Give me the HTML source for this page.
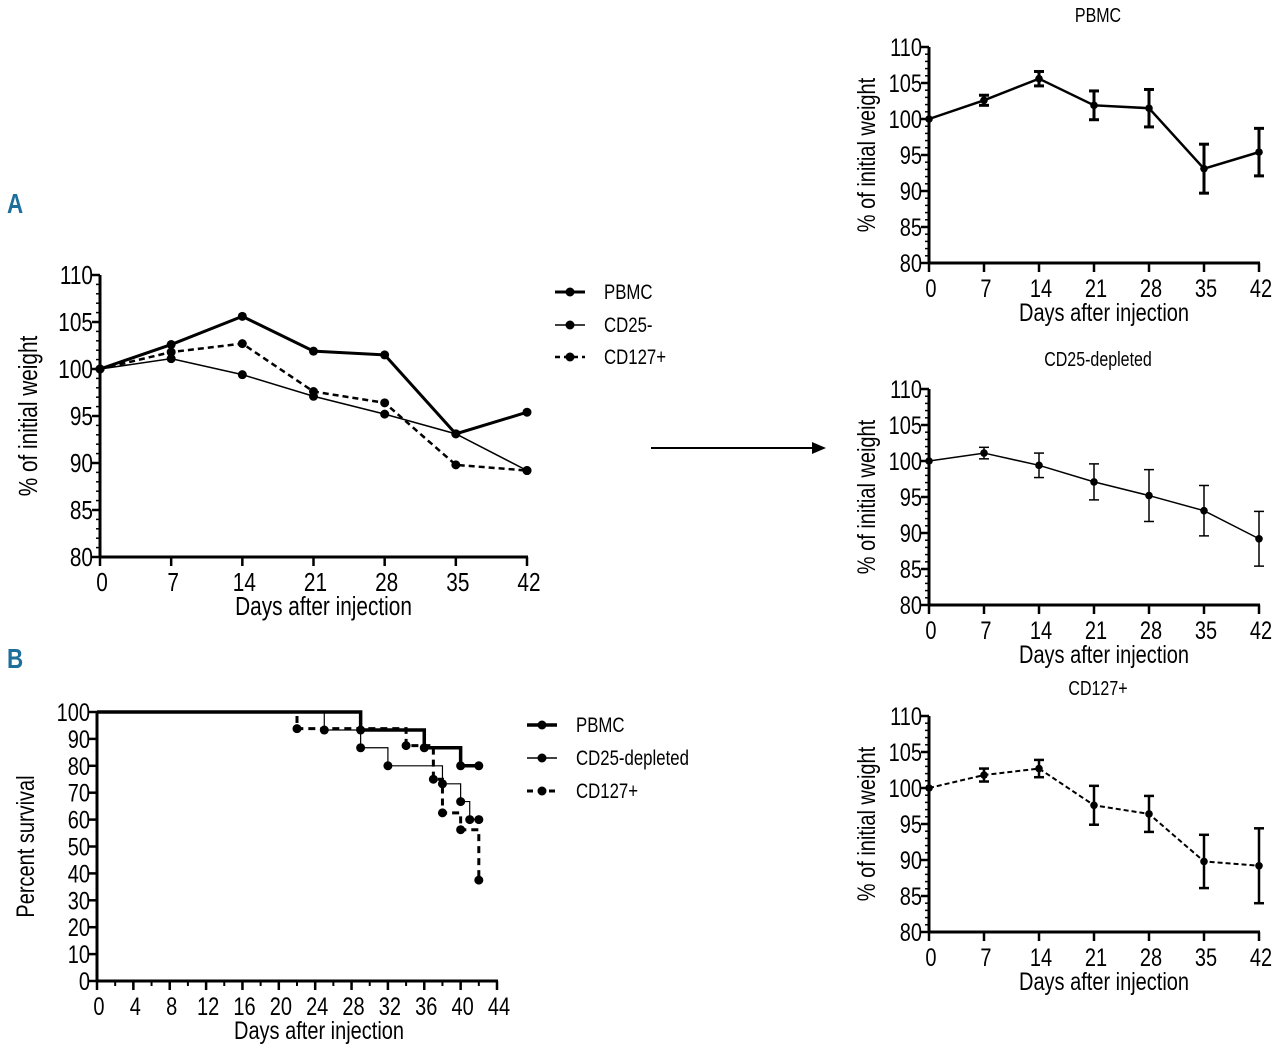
<!DOCTYPE html>
<html><head><meta charset="utf-8">
<style>
html,body{margin:0;padding:0;background:#fff;}
svg{display:block;font-family:"Liberation Sans Narrow","Liberation Sans",sans-serif;}
</style></head>
<body>
<svg id="fig" width="1280" height="1045" viewBox="0 0 1280 1045">
<text x="7" y="213" font-size="28" font-weight="bold" fill="#1d6e9b" transform="translate(7 0) scale(0.8 1) translate(-7 0)">A</text>
<text x="7" y="668" font-size="28" font-weight="bold" fill="#1d6e9b" transform="translate(7 0) scale(0.8 1) translate(-7 0)">B</text>
<g>
<line x1="651" y1="448" x2="815" y2="448" stroke="#000" stroke-width="2"/>
<polygon points="826,448 812,442 812,454" fill="#000"/>
</g>
</svg>
<script>
const days = [0,7,14,21,28,35,42];
const pbmcMean = [100,102.6,105.6,101.9,101.5,93.1,95.4];
const cd25Mean = [100,101.1,99.4,97.1,95.2,93.1,89.2];
const cd127Mean = [100,101.8,102.7,97.6,96.4,89.8,89.2];
const pbmcErr = [0,0.7,1.0,2.0,2.6,3.4,3.3];
const cd25Err = [0,0.8,1.7,2.5,3.6,3.5,3.8];
const cd127Err = [0,0.9,1.2,2.7,2.5,3.7,5.2];
const weightTicks = [80,85,90,95,100,105,110];
const dayTicks = [0,7,14,21,28,35,42];
const survTicksY = [0,10,20,30,40,50,60,70,80,90,100];
const survTicksX = [0,4,8,12,16,20,24,28,32,36,40,44];
const pbmcSurvT = [0,29,36,40,42];
const pbmcSurvS = [100,93.3,86.7,80,80];
const cd25SurvT = [0,25,29,32,38,40,41,42];
const cd25SurvS = [100,93.3,86.7,80,73.3,66.7,60,60];
const cd127SurvT = [0,22,34,37,38,40,42];
const cd127SurvS = [100,93.8,87.5,75,62.5,56.25,37.5];

const NS='http://www.w3.org/2000/svg';
const svg=document.getElementById('fig');
const SX=0.8;
function mk(tag,attrs,parent){const e=document.createElementNS(NS,tag);for(const k in attrs)e.setAttribute(k,attrs[k]);(parent||svg).appendChild(e);return e;}
function txt(s,x,y,attrs,parent,rot){
  const a=Object.assign({},attrs);
  a.x=0;a.y=0;
  a.transform=`translate(${x} ${y})`+(rot?` rotate(${rot})`:'')+` scale(${SX} 1)`;
  const e=mk('text',a,parent);e.textContent=s;return e;}

function axes(g,o){
  const X=v=>o.x0+(v-o.xmin)/(o.xmax-o.xmin)*(o.x1-o.x0);
  const Y=v=>o.y0-(v-o.ymin)/(o.ymax-o.ymin)*(o.y0-o.y1);
  mk('line',{x1:o.x0,y1:o.y1,x2:o.x0,y2:o.y0+1,stroke:'#000','stroke-width':3},g);
  mk('line',{x1:o.x0-1,y1:o.y0,x2:o.x1+1,y2:o.y0,stroke:'#000','stroke-width':3},g);
  if(o.yminor){for(let v=o.ymin;v<=o.ymax;v+=o.yminor){mk('line',{x1:o.x0-4,y1:Y(v),x2:o.x0,y2:Y(v),stroke:'#000','stroke-width':1.5},g);}}
  o.yt.forEach(v=>{mk('line',{x1:o.x0-8,y1:Y(v),x2:o.x0,y2:Y(v),stroke:'#000','stroke-width':2.5},g);
    const t=txt(String(v),o.x0-7,Y(v)+9,{'font-size':o.fs,'text-anchor':'end'},g);
    
    });
  if(o.xminor){for(let v=o.xmin;v<=o.xmax;v+=o.xminor){mk('line',{x1:X(v),y1:o.y0,x2:X(v),y2:o.y0+5,stroke:'#000','stroke-width':2},g);}}
  o.xt.forEach(v=>{mk('line',{x1:X(v),y1:o.y0,x2:X(v),y2:o.y0+9,stroke:'#000','stroke-width':2.5},g);
    const t=txt(String(v),X(v)+2,o.y0+34,{'font-size':o.fs,'text-anchor':'middle'},g);
    
    });
  const xt=txt(o.xlabel,(o.x0+o.x1)/2+o.xlo,o.y0+58,{'font-size':o.lfs,'text-anchor':'middle'},g);
  
  
  const cy=(o.y0+o.y1)/2, cx=o.ylx;
  const yt=txt(o.ylabel,cx,cy,{'font-size':o.lfs,'text-anchor':'middle'},g,-90);
  
  
  return {X,Y};
}
function lineSeries(g,X,Y,xs,ys,w,dash,r,name){
  const sg=mk('g',{},g);
  
  
  mk('polyline',{points:xs.map((x,i)=>X(x)+','+Y(ys[i])).join(' '),fill:'none',stroke:'#000','stroke-width':w,'stroke-dasharray':dash||'none'},sg);
  xs.forEach((x,i)=>mk('circle',{cx:X(x),cy:Y(ys[i]),r:r,fill:'#000'},sg));
}
function errBars(g,X,Y,xs,ys,es,w){
  xs.forEach((x,i)=>{if(!es[i])return;
    const b=mk('g',{},g);
    
    
    const cx=X(x),a=Y(ys[i]+es[i]),c=Y(ys[i]-es[i]);
    mk('line',{x1:cx,y1:a,x2:cx,y2:c,stroke:'#000','stroke-width':w},b);
    mk('line',{x1:cx-5,y1:a,x2:cx+5,y2:a,stroke:'#000','stroke-width':w},b);
    mk('line',{x1:cx-5,y1:c,x2:cx+5,y2:c,stroke:'#000','stroke-width':w},b);});
}
function legend(g,x,y,w,dash,label,name){
  const lg=mk('g',{},g);
  
  
  mk('line',{x1:x,y1:y,x2:x+30,y2:y,stroke:'#000','stroke-width':w,'stroke-dasharray':dash||'none'},lg);
  mk('circle',{cx:x+15,cy:y,r:4.5,fill:'#000'},lg);
  txt(label,x+49,y+7,{'font-size':21},lg);
}

// Panel A
const gA=mk('g',{});


const A=axes(gA,{x0:100,x1:527,y0:557,y1:275,xmin:0,xmax:42,ymin:80,ymax:110,yt:weightTicks,xt:dayTicks,yminor:1,fs:26,lfs:26,xlo:10,xlabel:'Days after injection',ylabel:'% of initial weight',ylx:37});
lineSeries(gA,A.X,A.Y,days,cd25Mean,1.5,null,4.5,'cd25-line');
lineSeries(gA,A.X,A.Y,days,cd127Mean,2.5,'6,4',4.5,'cd127-line');
lineSeries(gA,A.X,A.Y,days,pbmcMean,3,null,4.5,'pbmc-line');
legend(gA,555,292,3,null,'PBMC','legend-pbmc');
legend(gA,555,325,1.5,null,'CD25-','legend-cd25');
legend(gA,555,357,2.5,'5,4','CD127+','legend-cd127');

// Panel B
const gB=mk('g',{});


const B=axes(gB,{x0:97,x1:497,y0:981,y1:712,xmin:0,xmax:44,ymin:0,ymax:100,yt:survTicksY,xt:survTicksX,xminor:2,fs:25,lfs:25,xlo:22,xlabel:'Days after injection',ylabel:'Percent survival',ylx:34});
function km(ts,ss,w,dash,name){
  const sg=mk('g',{},gB);
  
  
  let p=[];
  for(let i=0;i<ts.length;i++){
    if(i>0)p.push(B.X(ts[i])+','+B.Y(ss[i-1]));
    p.push(B.X(ts[i])+','+B.Y(ss[i]));
  }
  mk('polyline',{points:p.join(' '),fill:'none',stroke:'#000','stroke-width':w,'stroke-dasharray':dash||'none'},sg);
  for(let i=1;i<ts.length;i++)mk('circle',{cx:B.X(ts[i]),cy:B.Y(ss[i]),r:4.5,fill:'#000'},sg);
}
km(cd25SurvT,cd25SurvS,1.2,null,'cd25-survival');
km(cd127SurvT,cd127SurvS,3,'7,5','cd127-survival');
km(pbmcSurvT,pbmcSurvS,3.5,null,'pbmc-survival');
legend(gB,527,725,3.5,null,'PBMC','legend-b-pbmc');
legend(gB,527,758,1.5,null,'CD25-depleted','legend-b-cd25');
legend(gB,527,791,3,'6,5','CD127+','legend-b-cd127');

// Right charts
function sub(name,title,ty,y1,y0,mean,err,w,dash,ew){
  const g=mk('g',{});
  
  
  const t=txt(title,1098,ty,{'font-size':20,'text-anchor':'middle'},g);
  
  
  const S=axes(g,{x0:929,x1:1259,y0:y0,y1:y1,xmin:0,xmax:42,ymin:80,ymax:110,yt:weightTicks,xt:dayTicks,yminor:1,fs:25,lfs:25,xlo:10,xlabel:'Days after injection',ylabel:'% of initial weight',ylx:875});
  errBars(g,S.X,S.Y,days,mean,err,ew);
  lineSeries(g,S.X,S.Y,days,mean,w,dash,3.8,'mean-line');
}
sub('pbmc-chart','PBMC',22,47,263,pbmcMean,pbmcErr,2.5,null,3);
sub('cd25-chart','CD25-depleted',366,389,605,cd25Mean,cd25Err,1.5,null,1.5);
sub('cd127-chart','CD127+',695,716,932,cd127Mean,cd127Err,2,'5,3',2.5);
</script>
</body></html>
